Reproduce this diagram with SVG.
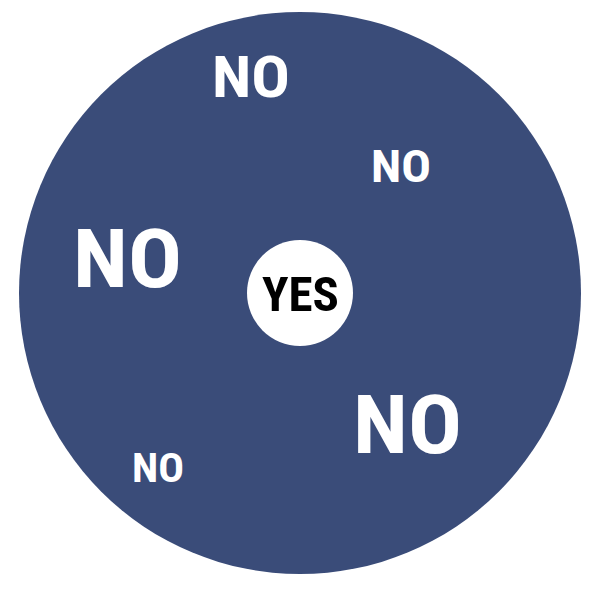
<svg xmlns="http://www.w3.org/2000/svg" width="607" height="600" viewBox="0 0 607 600">
<style>
text{font-family:"Liberation Sans Narrow","Roboto Condensed","Liberation Sans",sans-serif;font-weight:bold;text-anchor:middle}
.no{fill:#ffffff}
.yes{fill:#000000}
</style>
<rect width="607" height="600" fill="#ffffff"/>
<g id="outer">
<circle cx="300" cy="293" r="281" fill="#3a4c79"/>
</g>
<g id="labels">
<text class="no" x="127.5" y="287" font-size="82" textLength="109" lengthAdjust="spacingAndGlyphs">NO</text>
<text class="no" x="407.5" y="453" font-size="82" textLength="109" lengthAdjust="spacingAndGlyphs">NO</text>
<text class="no" x="251" y="97" font-size="57" textLength="78" lengthAdjust="spacingAndGlyphs">NO</text>
<text class="no" x="401" y="182" font-size="44" textLength="60" lengthAdjust="spacingAndGlyphs">NO</text>
<text class="no" x="158" y="482" font-size="40" textLength="52" lengthAdjust="spacingAndGlyphs">NO</text>
</g>
<g id="center">
<circle cx="300" cy="293" r="53" fill="#ffffff"/>
<text class="yes" x="300.5" y="311" font-size="48" textLength="77" lengthAdjust="spacingAndGlyphs">YES</text>
</g>
</svg>
